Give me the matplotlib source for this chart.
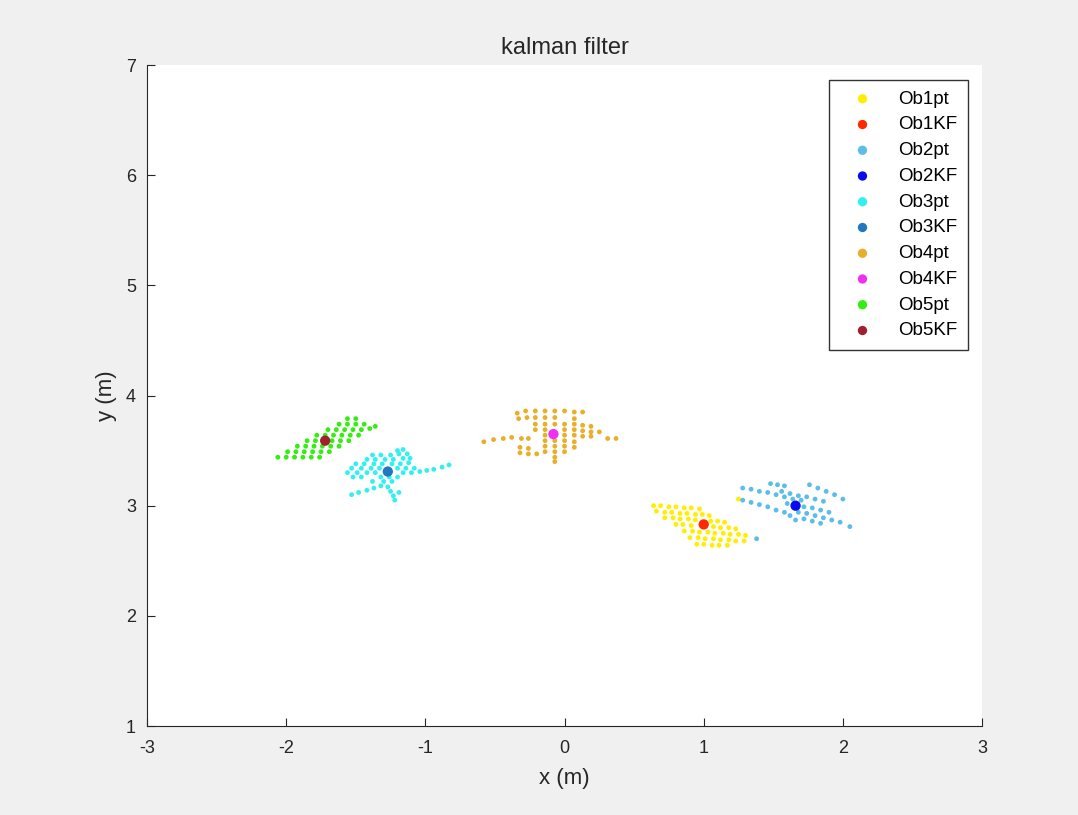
import matplotlib
matplotlib.use('Agg')
import matplotlib.pyplot as plt

plt.rcParams['font.family'] = ['Liberation Sans', 'DejaVu Sans']
plt.rcParams['axes.unicode_minus'] = False

# object 1 (yellow points + red KF estimate)
ob1_x = [0.64, 0.69, 0.75, 0.80, 0.86, 0.91, 0.97,
         0.66, 0.72, 0.77, 0.83, 0.88, 0.94, 0.99, 1.04,
         0.72, 0.78, 0.83, 0.89, 0.94, 1.05, 1.10, 1.15,
         0.80, 0.85, 0.91, 1.07, 1.12, 1.18, 1.23,
         0.86, 0.92, 0.97, 1.03, 1.08, 1.14, 1.19, 1.25, 1.30,
         0.90, 0.96, 1.01, 1.07, 1.12, 1.18, 1.23, 1.29,
         0.95, 1.00, 1.06, 1.11, 1.17, 1.25]
ob1_y = [3.00, 3.00, 2.99, 2.99, 2.98, 2.98, 2.97,
         2.95, 2.94, 2.94, 2.93, 2.93, 2.92, 2.92, 2.91,
         2.89, 2.89, 2.88, 2.88, 2.87, 2.86, 2.86, 2.85,
         2.83, 2.83, 2.82, 2.81, 2.80, 2.80, 2.79,
         2.77, 2.77, 2.76, 2.76, 2.75, 2.75, 2.74, 2.74, 2.73,
         2.71, 2.71, 2.70, 2.70, 2.69, 2.69, 2.68, 2.68,
         2.65, 2.65, 2.64, 2.64, 2.64, 3.06]
ob1_kf = (1.00, 2.83)

# object 2 (light blue points + blue KF estimate)
ob2_x = [1.48, 1.53, 1.58, 1.76, 1.82, 1.88, 1.94, 2.00,
         1.28, 1.34, 1.40, 1.46, 1.52, 1.58, 1.64, 1.70,
         1.28, 1.34, 1.40, 1.46, 1.52, 1.58,
         1.56, 1.62, 1.68, 1.74, 1.80, 1.86,
         1.60, 1.72, 1.78, 1.84, 1.90,
         1.62, 1.68, 1.74, 1.80, 1.86, 1.92, 1.98, 2.05,
         1.66, 1.72, 1.78, 1.84, 1.38]
ob2_y = [3.20, 3.19, 3.18, 3.19, 3.16, 3.13, 3.10, 3.06,
         3.16, 3.15, 3.13, 3.12, 3.10, 3.08, 3.06, 3.05,
         3.05, 3.03, 3.01, 2.99, 2.96, 2.94,
         3.13, 3.11, 3.09, 3.08, 3.06, 3.04,
         3.02, 2.99, 2.98, 2.96, 2.94,
         2.91, 2.94, 2.93, 2.91, 2.89, 2.87, 2.85, 2.81,
         2.87, 2.88, 2.86, 2.84, 2.70]
ob2_kf = (1.66, 3.00)

# object 3 (cyan points + dark blue KF estimate)
ob3_x = [-1.20, -1.16,
         -1.38, -1.32, -1.25, -1.19, -1.13,
         -1.42, -1.36, -1.29, -1.23, -1.16, -1.11,
         -1.50, -1.44, -1.37, -1.31, -1.24, -1.18, -1.12,
         -1.53, -1.46, -1.39, -1.33, -1.20, -1.14, -1.08,
         -1.56, -1.49, -1.42, -1.36, -1.16, -1.10,
         -1.52, -1.46, -1.32, -1.26, -1.20,
         -1.38, -1.30, -1.24,
         -1.04, -0.99, -0.94, -0.88, -0.83,
         -1.53, -1.48, -1.42, -1.37, -1.32,
         -1.27, -1.25, -1.23, -1.22, -1.19]
ob3_y = [3.50, 3.51,
         3.46, 3.46, 3.46, 3.47, 3.47,
         3.42, 3.42, 3.42, 3.42, 3.43, 3.43,
         3.38, 3.38, 3.38, 3.38, 3.38, 3.38, 3.39,
         3.34, 3.34, 3.34, 3.34, 3.34, 3.34, 3.34,
         3.30, 3.30, 3.30, 3.30, 3.30, 3.30,
         3.26, 3.26, 3.26, 3.26, 3.26,
         3.22, 3.22, 3.22,
         3.31, 3.32, 3.33, 3.35, 3.37,
         3.10, 3.12, 3.14, 3.16, 3.18,
         3.17, 3.13, 3.09, 3.05, 3.12]
ob3_kf = (-1.27, 3.31)

# object 4 (orange points + magenta KF estimate)
ob4_x = [-0.34, -0.28, -0.21, -0.14, -0.07, 0.00, 0.07, 0.13,
         -0.33, -0.27, -0.21, -0.14, -0.07, 0.07,
         -0.21, -0.14, -0.07, 0.00, 0.07, 0.13, 0.19,
         -0.21, -0.14, 0.00, 0.07, 0.13, 0.19, 0.25,
         -0.14, 0.00, 0.07, 0.13, 0.19, 0.31, 0.37,
         -0.58, -0.51, -0.44, -0.38, -0.31, -0.26,
         -0.14, -0.07, 0.00, 0.07,
         -0.32, -0.26, -0.14, -0.07, 0.00, 0.07,
         -0.32, -0.26, -0.20, -0.14, -0.07, 0.00,
         -0.07, -0.07]
ob4_y = [3.84, 3.86, 3.86, 3.86, 3.86, 3.86, 3.85, 3.85,
         3.79, 3.80, 3.80, 3.80, 3.80, 3.79,
         3.74, 3.74, 3.74, 3.74, 3.74, 3.73, 3.72,
         3.69, 3.69, 3.69, 3.69, 3.68, 3.67, 3.67,
         3.64, 3.64, 3.64, 3.63, 3.63, 3.61, 3.61,
         3.58, 3.60, 3.61, 3.62, 3.61, 3.61,
         3.59, 3.59, 3.59, 3.58,
         3.53, 3.52, 3.54, 3.54, 3.54, 3.53,
         3.48, 3.47, 3.47, 3.49, 3.49, 3.49,
         3.44, 3.40]
ob4_kf = (-0.08, 3.65)

# object 5 (green points + dark red KF estimate)
ob5_x = [-2.06, -2.00, -1.94, -1.88, -1.82, -1.76,
         -1.99, -1.93, -1.87, -1.81, -1.75, -1.69,
         -1.92, -1.86, -1.80, -1.74, -1.68, -1.62,
         -1.85, -1.79, -1.67, -1.61, -1.55,
         -1.78, -1.72, -1.66, -1.60, -1.54, -1.48,
         -1.70, -1.64, -1.58, -1.52, -1.46, -1.40,
         -1.62, -1.56, -1.50, -1.44, -1.36,
         -1.56, -1.50]
ob5_y = [3.44, 3.44, 3.44, 3.44, 3.44, 3.44,
         3.49, 3.49, 3.49, 3.49, 3.49, 3.49,
         3.54, 3.54, 3.54, 3.54, 3.54, 3.54,
         3.59, 3.59, 3.59, 3.59, 3.59,
         3.64, 3.64, 3.64, 3.64, 3.64, 3.64,
         3.69, 3.69, 3.69, 3.69, 3.69, 3.70,
         3.74, 3.74, 3.74, 3.74, 3.72,
         3.79, 3.79]
ob5_kf = (-1.72, 3.59)

objects = [
    ('Ob1', ob1_x, ob1_y, ob1_kf, '#FFEE00', '#FF2A00'),
    ('Ob2', ob2_x, ob2_y, ob2_kf, '#5CBDE8', '#0A0AF0'),
    ('Ob3', ob3_x, ob3_y, ob3_kf, '#33F0F0', '#1F78C0'),
    ('Ob4', ob4_x, ob4_y, ob4_kf, '#E8B02A', '#F030F0'),
    ('Ob5', ob5_x, ob5_y, ob5_kf, '#33EE11', '#A0202F'),
]

fig = plt.figure(figsize=(10.78, 8.15), dpi=100, facecolor='#f0f0f0')
ax = fig.add_axes([0.1364, 0.1092, 0.7746, 0.811])

for name, xs, ys, kf, pt_col, kf_col in objects:
    ax.scatter(xs, ys, s=12, color=pt_col, edgecolors='none', label=name + 'pt')
    ax.scatter([kf[0]], [kf[1]], s=55, color=kf_col, edgecolors='none', label=name + 'KF', zorder=3)

ax.set_xlim(-3, 3)
ax.set_ylim(1, 7)
ax.set_xticks(range(-3, 4))
ax.set_yticks(range(1, 8))
ax.tick_params(direction='in', length=6, labelsize=13, width=0.8, colors='#262626')
ax.tick_params(axis='x', pad=10)
ax.tick_params(axis='y', pad=8)
ax.spines['top'].set_visible(False)
ax.spines['right'].set_visible(False)
for sp in ('left', 'bottom'):
    ax.spines[sp].set_color('#262626')
ax.set_xlabel('x (m)', fontsize=16, color='#262626', labelpad=8)
ax.set_ylabel('y (m)', fontsize=16, color='#262626', labelpad=6)
ax.set_title('kalman filter', fontsize=17, color='#262626', pad=8)

leg = ax.legend(loc='upper right', bbox_to_anchor=(0.983, 0.977), fontsize=13.5,
                frameon=True, fancybox=False, edgecolor='black', labelspacing=0.46,
                handlelength=2.5, handletextpad=0.66, borderpad=0.55, borderaxespad=0,
                scatterpoints=1)
leg.get_frame().set_linewidth(1.0)
for h in leg.legend_handles:
    h.set_sizes([45])

fig.savefig('out.png', dpi=100, facecolor=fig.get_facecolor())
